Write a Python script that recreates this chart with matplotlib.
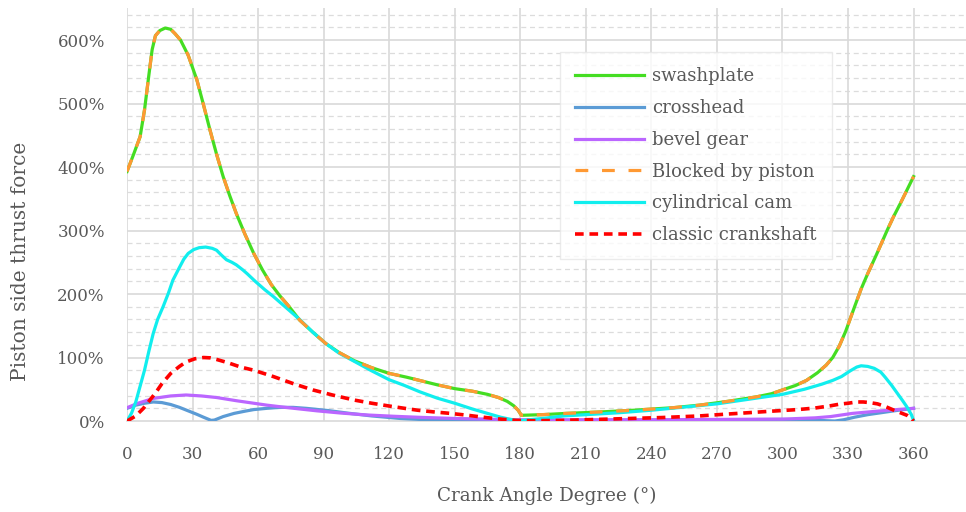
import matplotlib
matplotlib.use("Agg")
import matplotlib.pyplot as plt
from matplotlib.ticker import FuncFormatter

# ---------------- data ----------------
sw_deg = [0, 3, 6, 8, 10, 11.5, 13, 15, 17.5, 20, 22, 24.5, 28, 32, 35, 38, 41, 44, 47, 50,
          54, 58, 62, 66, 70, 74, 79, 85, 91, 97, 104, 112, 120, 128, 135, 142, 150, 158,
          165, 170, 174, 177, 179, 180.5, 190, 201, 215, 232, 250, 262, 275, 288, 295, 300,
          306, 311, 316, 320, 323, 326, 329, 333, 336, 339, 343, 348, 351, 354, 357, 360]
sw_val = [393, 420, 448, 490, 545, 585, 607, 615, 619, 617, 610, 600, 576, 537, 498, 458, 420,
          385, 355, 327, 294, 264, 238, 215, 197, 181, 159, 140, 122, 108, 95, 84, 75, 69, 63,
          57, 51, 47, 42, 37, 31, 24, 17, 9, 10, 12, 14, 17, 21, 25, 31, 38, 43, 49, 56, 64,
          76, 88, 100, 118, 142, 180, 208, 232, 262, 301, 323, 343, 364, 385]

bp_deg = sw_deg
bp_val = sw_val

cam_deg = [0, 2, 4, 6, 8, 10, 12, 14, 16.5, 19, 21, 24, 26, 28, 30.5, 33, 36, 39, 41, 43, 45.5,
           48, 50, 53, 55, 59, 63, 67, 73, 79, 85, 91, 97, 104, 112, 120, 127, 134, 142, 150,
           158, 165, 171, 175, 178, 180, 190, 200, 210, 225, 240, 255, 270, 288, 300, 310, 318,
           323, 327, 331, 334, 336, 339, 342, 345, 347, 350, 352.5, 355, 357, 359, 360]
cam_val = [0, 12, 30, 55, 80, 110, 138, 160, 180, 202, 222, 242, 255, 264, 270, 273, 274, 272,
           269, 262, 254, 250, 246, 238, 232, 219, 207, 196, 178, 160, 140, 122, 107, 94, 79, 65,
           56, 46, 36, 28, 19, 12, 6, 3, 1, 0.5, 4, 8, 10, 13, 17, 22, 27, 36, 42, 50, 58, 64,
           70, 79, 85, 87, 86, 83, 77, 69, 56, 44, 32, 22, 10, 1]

cr_deg = [0, 4, 7.5, 10, 13, 16, 20, 24, 27, 31, 35, 38, 41, 46, 52, 58, 67, 76, 85, 94, 104,
          112, 120, 127, 133, 140, 148, 156, 163, 171, 178, 185, 200, 215, 230, 245, 262, 275,
          284, 295, 307, 315, 322, 326, 330, 334, 337, 340, 343.5, 347, 351, 354, 357, 359, 360]
cr_val = [0, 8, 20, 31, 44, 59, 75, 86, 93, 98, 100, 99.5, 97, 92, 85, 80, 70, 59, 49, 41, 33,
          28, 23.6, 20, 17, 14.5, 12, 9, 6, 3, 1, 0.5, 1, 2.5, 4, 5.5, 8, 11, 13, 15.5, 18,
          20.5, 24, 26.5, 28, 30, 30, 29, 27, 23, 17, 13, 9, 4, 0]

bg_deg = [0, 5, 12, 20, 27, 34, 41, 50, 57, 64, 75, 87, 98, 110, 122, 134, 150, 165, 180, 210,
          240, 270, 300, 315, 322, 332, 345, 360]
bg_val = [21, 28, 35.6, 39.5, 41, 39.5, 37, 32, 28.5, 25, 20.5, 16, 12.5, 9.5, 7.5, 5.8, 4, 3,
          2, 2, 2, 2.5, 3, 5, 7, 12, 16, 20]

ch_deg = [0, 4, 8, 12, 16, 20, 24, 28, 32, 35, 38.5, 40, 44, 49, 54, 58, 64, 70, 76, 82, 92,
          102, 112, 125, 140, 155, 180, 210, 240, 270, 300, 314, 320, 324, 328, 333, 339, 345,
          352, 360]
ch_val = [20, 25, 28, 30, 29, 26, 21.5, 16, 10.5, 6, 1, 1.5, 7, 12, 15.5, 18, 20, 21.5, 21.5,
          20, 16.5, 12, 8, 4, 1.5, 0.5, 0.5, 1, 1.5, 2, 2.5, 1.5, 0.5, 0, 2, 6, 10, 13, 16.5, 20]

x_ticks = [0, 30, 60, 90, 120, 150, 180, 210, 240, 270, 300, 330, 360]
y_ticks = [0, 100, 200, 300, 400, 500, 600]

# ---------------- styling ----------------
plt.rcParams['font.family'] = ['DejaVu Serif']
TXT = '#595959'

fig = plt.figure(figsize=(9.66, 5.12), dpi=100)
ax = fig.add_axes([0.1315, 0.1777, 0.8685, 0.806])

ax.set_xlim(0, 384)
ax.set_ylim(0, 650)

# grid
for v in range(20, 650, 20):
    if v % 100 != 0:
        ax.axhline(v, color='#dcdcdc', lw=0.9, ls=(0, (4, 3)), zorder=0)
for v in y_ticks[1:]:
    ax.axhline(v, color='#d9d9d9', lw=1.2, zorder=0)
for v in x_ticks:
    ax.axvline(v, color='#d9d9d9', lw=1.2, zorder=0)

lw = 2.3
ax.plot(sw_deg, sw_val, color='#44dd22', lw=lw, label='swashplate', zorder=3)
ax.plot(ch_deg, ch_val, color='#5b9bd5', lw=lw, label='crosshead', zorder=3)
ax.plot(bg_deg, bg_val, color='#bb66ff', lw=lw, label='bevel gear', zorder=3)
ax.plot(bp_deg, bp_val, color='#ff9933', lw=lw, ls=(0, (4, 4.3)), label='Blocked by piston', zorder=4)
ax.plot(cam_deg, cam_val, color='#11eeee', lw=lw, label='cylindrical cam', zorder=3)
ax.plot(cr_deg, cr_val, color='#ff0000', lw=2.6, ls=(0, (2.4, 1.6)), label='classic crankshaft', zorder=5)

ax.set_xticks(x_ticks)
ax.set_yticks(y_ticks)
ax.yaxis.set_major_formatter(FuncFormatter(lambda v, p: f'{int(v)}%'))
ax.tick_params(length=0, labelsize=12, colors=TXT)
ax.tick_params(axis='x', pad=18)
ax.tick_params(axis='y', pad=16)

for s in ['top', 'right', 'left']:
    ax.spines[s].set_visible(False)
ax.spines['bottom'].set_color('#d9d9d9')
ax.spines['bottom'].set_linewidth(1.2)

ax.set_xlabel('Crank Angle Degree (°)', fontsize=13.2, color=TXT, labelpad=17)
fig.text(21 / 966, 1 - 261 / 512, 'Piston side thrust force', rotation=90,
         fontsize=14.5, color=TXT, ha='center', va='center')

leg = ax.legend(loc='upper left', bbox_to_anchor=(0.516, 0.894), fontsize=13,
                frameon=True, fancybox=False, edgecolor='#e6e6e6', handlelength=3.8,
                labelspacing=0.76, borderpad=0.85, handletextpad=0.45, borderaxespad=0)
leg.get_frame().set_linewidth(1.0)
for t in leg.get_texts():
    t.set_color(TXT)

fig.savefig('out.png', dpi=100)
